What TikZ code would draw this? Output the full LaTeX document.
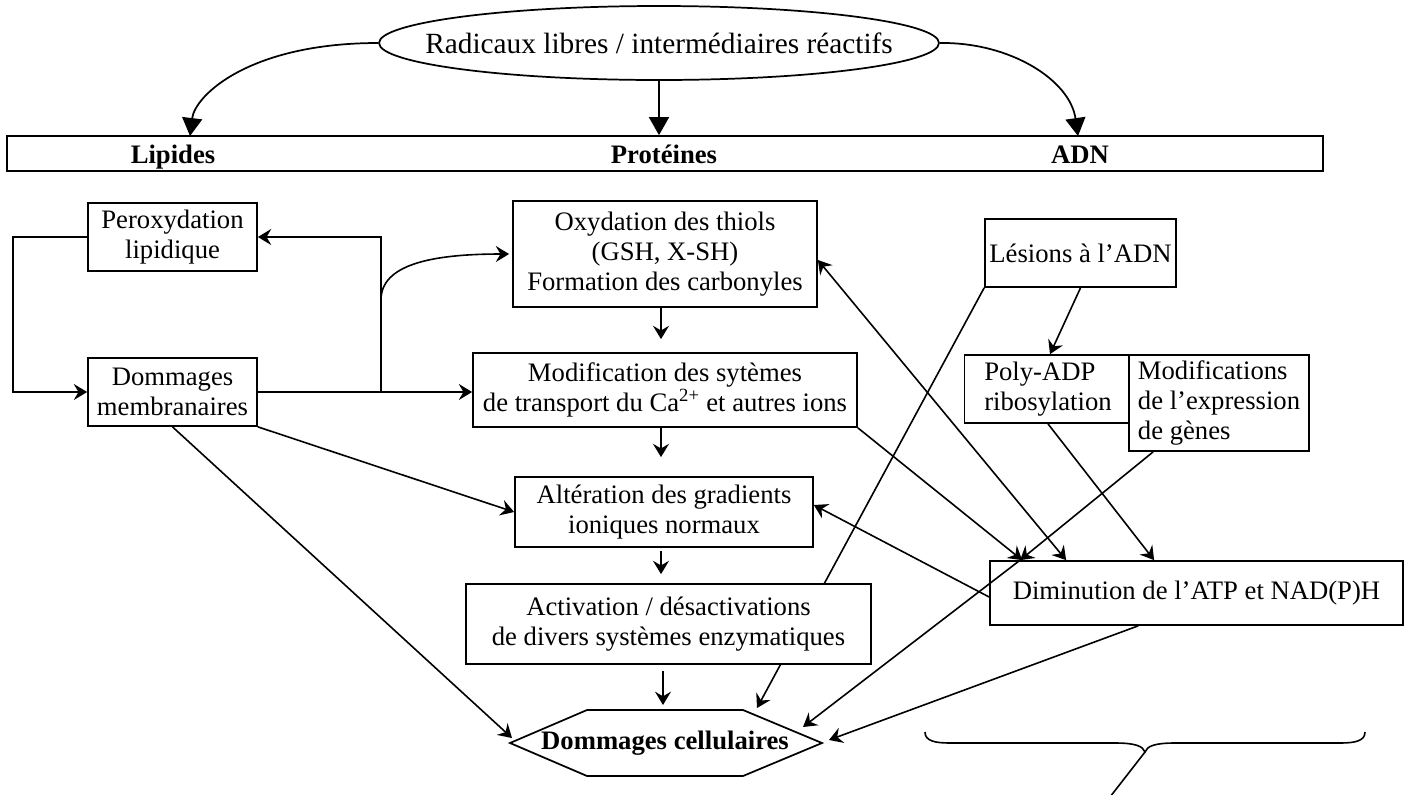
\documentclass[tikz,border=0pt]{standalone}
\usepackage{fontspec}
\setmainfont{Liberation Serif}
\usetikzlibrary{arrows.meta,shapes.geometric,calc}
\pgfdeclarelayer{background}
\pgfsetlayers{background,main}
\newlength\pxu
\setlength\pxu{0.75pt}
\newcommand\boxfont{\fontsize{20}{22.5}\selectfont}
\newcommand\ellfont{\fontsize{22}{25}\selectfont}
\begin{document}
\begin{tikzpicture}[x=0.75pt,y=-0.75pt,
  box/.style={draw, line width=1.3pt, fill=white, inner sep=0pt, align=center, font=\boxfont},
  lab/.style={font=\boxfont\bfseries, inner sep=0pt, anchor=base},
  arr/.style={-{Stealth[length=10pt,width=12pt,inset=3.5pt]}, line width=1.2pt},
  arrboth/.style={{Stealth[length=10pt,width=12pt,inset=3.5pt]}-{Stealth[length=10pt,width=12pt,inset=3.5pt]}, line width=1.2pt},
  bigarr/.style={-{Triangle[length=13.5pt,width=15pt]}, line width=1.3pt}]
\useasboundingbox (0,0) rectangle (1414,794);

% top: source ellipse and the three targets
\node[ellipse, draw, line width=1.3pt, minimum width=560\pxu, minimum height=74\pxu,
      inner sep=0pt, font=\ellfont] (rad) at (659,43) {\makebox[0pt]{Radicaux libres / intermédiaires réactifs}};
\node[box, minimum width=1316\pxu, minimum height=35\pxu] (bar) at (665,153.5) {};
\node[lab] (lip) at (173,163) {Lipides};
\node[lab] (prot) at (664,163) {Protéines};
\node[lab] (adn) at (1080,163) {ADN};
\coordinate (tipL) at (190,136);
\coordinate (tipR) at (1078,136);

\draw[bigarr] (rad.west) .. controls (250,43) and (195,95) .. (tipL);
\draw[bigarr] (rad.south) -- (rad.south |- bar.north);
\draw[bigarr] (rad.east) .. controls (1010,42) and (1070,80) .. (tipR);

% boxes
\node[box, minimum width=169\pxu, minimum height=68\pxu] (perox) at (172.5,237) {Peroxydation\\lipidique};
\node[box, minimum width=169\pxu, minimum height=68\pxu] (dommem) at (172.5,392) {Dommages\\membranaires};
\node[box, minimum width=304\pxu, minimum height=106\pxu] (oxyd) at (665,254) {Oxydation des thiols\\(GSH, X-SH)\\Formation des carbonyles};
\node[box, minimum width=384\pxu, minimum height=74\pxu] (modif) at (665,390) {Modification des sytèmes\\de transport du Ca\textsuperscript{2+} et autres ions};
\node[box, minimum width=298\pxu, minimum height=70\pxu] (alter) at (664,512) {Altération des gradients\\ioniques normaux};
\node[box, minimum width=405\pxu, minimum height=80\pxu] (activ) at (668.5,624) {Activation / désactivations\\de divers systèmes enzymatiques};
\node[box, minimum width=191\pxu, minimum height=68\pxu] (lesion) at (1080.5,253) {Lésions à l’ADN};
\node[box, minimum width=167\pxu, minimum height=68\pxu, align=left] (poly) at (1048,389) {Poly-ADP\\ribosylation};
\node[box, minimum width=180\pxu, minimum height=96\pxu, align=left] (modexp) at (1219,403) {Modifications\\de l’expression\\de gènes};
\node[box, minimum width=413\pxu, minimum height=64\pxu] (dimin) at (1196.5,593) {Diminution de l’ATP et NAD(P)H};

% hexagon of the final outcome
\draw[line width=1.3pt, fill=white] (510,743) -- (587,710) -- (743,710) -- (822,743) -- (743,776) -- (587,776) -- cycle;
\node[lab] (hex) at (665,749) {Dommages cellulaires};
\coordinate (hexL) at (512,738);
\coordinate (hexT) at (757,708);
\coordinate (hexR1) at (803,727);
\coordinate (hexR2) at (829,740);

% lipid branch
\coordinate (j1) at (dommem.east -| 381,0);
\coordinate (j2) at (381,300);
\draw[arr] (perox.west) -- ++(-74,0) |- (dommem.west);
\draw[arr] (dommem.east) -- (dommem.east -| modif.west);
\draw[arr] (j1) |- (perox.east);
\draw[arr, shorten >=3\pxu] (j2) .. controls (381,265) and (430,254) .. (oxyd.west);
\draw[arr] (dommem.south) -- (hexL);
\draw[arr] (dommem.south east) -- (alter.west);

% protein column
\coordinate (c1) at (661,0);
\draw[arr, shorten >=13\pxu] (c1 |- oxyd.south) -- (c1 |- modif.north);
\draw[arr, shorten >=19\pxu] (c1 |- modif.south) -- (c1 |- alter.north);
\draw[arr, shorten <=3\pxu, shorten >=9\pxu] (c1 |- alter.south) -- (c1 |- activ.north);
\draw[arr, shorten <=6\pxu, shorten >=5\pxu] ([xshift=2\pxu]c1 |- activ.south) -- ([xshift=2\pxu]c1 |- 0,710);

% DNA branch
\coordinate (d0) at ($(dimin.north west)+(31,0)$);
\coordinate (d1) at ($(dimin.north west)+(33,0)$);
\coordinate (d2) at ($(dimin.north west)+(77,0)$);
\coordinate (d3) at ($(dimin.north west)+(165,0)$);
\begin{pgfonlayer}{background}
\draw[arr] (lesion.south west) -- (hexT);
\end{pgfonlayer}
\draw[arr] (lesion.south) -- ([xshift=2\pxu]poly.north);
\draw[arrboth] ([yshift=-6\pxu]oxyd.east) -- (d2);
\draw[arr] (modif.south east) -- (d1);
\draw[arr] (poly.south) -- (d3);
\draw[arr] ($(modexp.south west)+(25,0)$) -- (d0);
\draw[arr] (d0) -- (hexR1);
\draw[arr] ([yshift=-4\pxu]dimin.west) -- ([yshift=7\pxu]alter.east);
\draw[arr] ($(dimin.south west)+(149,0)$) -- (hexR2);

% brace under the right-hand part
\coordinate (bL) at (925,732);
\coordinate (bM) at (1145,752);
\coordinate (bR) at (1365,732);
\draw[line width=1.2pt] (bL) .. controls (925,741) and (935,743) .. (950,743) -- (1115,743)
  .. controls (1135,743) and (1143,746) .. (bM)
  .. controls (1147,746) and (1155,743) .. (1175,743) -- (1340,743)
  .. controls (1355,743) and (1365,741) .. (bR);
\draw[line width=1.2pt] (bM) -- (1110,797);
\end{tikzpicture}
\end{document}
